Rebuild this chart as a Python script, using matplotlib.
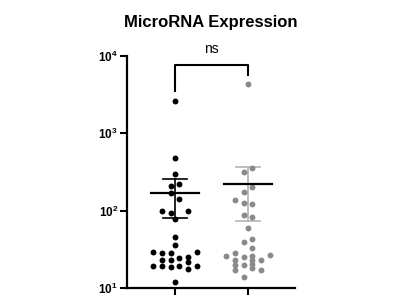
import matplotlib
matplotlib.use("Agg")
import matplotlib.pyplot as plt
import numpy as np

plt.rcParams['font.family'] = ['Liberation Sans', 'DejaVu Sans']
plt.rcParams['mathtext.fontset'] = 'custom'
plt.rcParams['mathtext.rm'] = 'Liberation Sans'
plt.rcParams['mathtext.bf'] = 'Liberation Sans:bold'

# ===== Data =====
group_a = [2600, 478, 296, 209, 218, 168, 142, 98, 94, 99, 78, 45, 36,
           29.5, 28.7, 28.7, 29.5, 24.7, 25.4, 23, 23, 21.5,
           19, 19, 18.6, 19, 19, 17.6, 12]
slot_a = [0, 0, 0, -0.5, 0.5, -0.5, 0.5, -1.5, -0.5, 1.5, 0, 0, 0,
          -2.5, -1.5, -0.5, 2.5, 0.5, 1.5, -1.5, -0.5, 1.5,
          -2.5, -1.5, -0.5, 0.5, 2.5, 1.5, 0]

group_b = [4300, 360, 314, 204, 176, 138, 125, 122, 88, 82, 60,
           42.6, 39.6, 32.6, 28.6, 26, 25.4, 26, 26.5, 23, 23, 23,
           20, 20, 20.2, 18, 17, 17, 13.9]
slot_b = [0, 0.5, -0.5, 0.5, -0.5, -1.5, -0.5, 0.5, -0.5, 0.5, 0,
          0.5, -0.5, 0.5, -1.5, -2.5, -0.5, 0.5, 2.5, -1.5, 0.5, 1.5,
          -1.5, -0.5, 0.5, 0.5, -1.5, 1.5, -0.5]

ytick_vals = [10, 100, 1000, 10000]
ytick_labels = [r'$\mathbf{10^{1}}$', r'$\mathbf{10^{2}}$',
                r'$\mathbf{10^{3}}$', r'$\mathbf{10^{4}}$']

# ===== Figure =====
fig = plt.figure(figsize=(4, 3), dpi=100)
ax = fig.add_axes([0.3175, 0.04, 0.42, 0.7733])

slot_w = 0.119
groups = [(1, group_a, slot_a, 'black', 'black'),
          (2, group_b, slot_b, '#8a8a8a', '#b3b3b3')]

for xc, vals, slots, col, errcol in groups:
    vals = np.array(vals)
    xs = xc + np.array(slots) * slot_w
    ax.scatter(xs, vals, s=18, color=col, zorder=3, linewidths=0)
    m = vals.mean()
    sem = vals.std(ddof=1) / np.sqrt(len(vals))
    # SEM bar + caps
    ax.plot([xc, xc], [m - sem, m + sem], color=errcol, lw=1.2, zorder=2)
    for yv in (m - sem, m + sem):
        ax.plot([xc - 0.165, xc + 0.165], [yv, yv], color=errcol, lw=1.2, zorder=2)
    # mean line
    ax.plot([xc - 0.33, xc + 0.33], [m, m], color='black', lw=1.6, zorder=4)

# ===== Significance bracket =====
top = max(max(group_a), max(group_b)) * 1.78
ax.plot([1, 1, 2, 2], [max(group_a) * 1.37, top, top, max(group_b) * 1.33],
        color='black', lw=1.5, clip_on=False)
ax.text(1.5, top * 1.3, 'ns', ha='center', va='bottom', fontsize=10)

# ===== Axes =====
ax.set_yscale('log')
ax.set_ylim(10, 10000)
ax.set_xlim(0.342, 2.644)
ax.set_yticks(ytick_vals)
ax.set_yticklabels(ytick_labels, fontsize=8.5)
ax.yaxis.set_minor_locator(matplotlib.ticker.NullLocator())
ax.set_xticks([1, 2])
ax.set_xticklabels(['', ''])
ax.tick_params(axis='both', width=1.5, length=5, pad=1.5)

for side in ('top', 'right'):
    ax.spines[side].set_visible(False)
for side in ('left', 'bottom'):
    ax.spines[side].set_linewidth(1.6)

fig.text(0.5275, 0.925, 'MicroRNA Expression', ha='center', va='center',
         fontsize=12, fontweight='bold')

fig.savefig('out.png', dpi=100)
